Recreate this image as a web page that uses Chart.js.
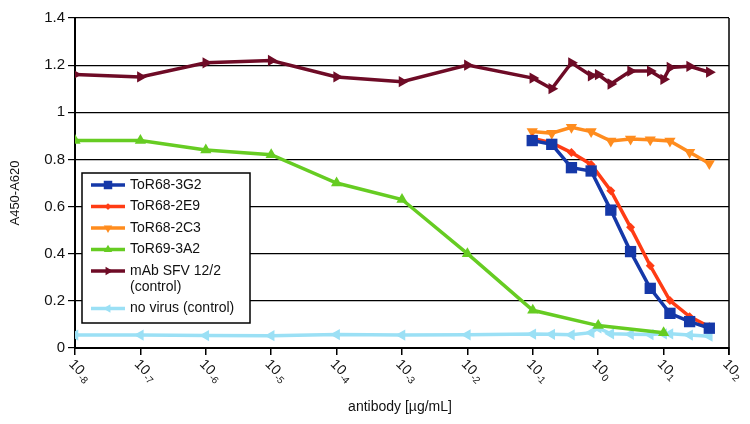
<!DOCTYPE html>
<html>
<head>
<meta charset="utf-8">
<script src="https://cdn.jsdelivr.net/npm/chart.js@4"></script>
<style>
  body { margin: 0; background: #fff; }
  canvas { display: block; }
</style>
</head>
<body>
<canvas id="myChart" width="750" height="424"></canvas>
<script>
// antibody concentrations [µg/mL]
const decades = [1e-8, 1e-7, 1e-6, 1e-5, 1e-4, 1e-3, 1e-2, 0.1, 1, 10];
const dilutions = [0.098, 0.195, 0.39, 0.78, 1.56, 3.125, 6.25, 12.5, 25, 50];
const mabX = [1e-8, 1e-7, 1e-6, 1e-5, 1e-4, 1e-3, 1e-2, 0.1, 0.195, 0.39, 0.78, 1, 1.56, 3.125, 6.25, 10, 12.5, 25, 50];
const noVirusX = [1e-8, 1e-7, 1e-6, 1e-5, 1e-4, 1e-3, 1e-2, 0.1, 0.195, 0.39, 0.78, 1, 1.56, 3.125, 6.25, 10, 12.5, 25, 50];

// A450-A620 readings
const tor3G2 = [0.88, 0.864, 0.765, 0.751, 0.585, 0.409, 0.253, 0.147, 0.112, 0.084];
const tor2E9 = [0.89, 0.87, 0.829, 0.779, 0.667, 0.512, 0.349, 0.201, 0.133, 0.09];
const tor2C3 = [0.918, 0.911, 0.936, 0.918, 0.878, 0.887, 0.883, 0.878, 0.83, 0.783];
const tor3A2 = [0.88, 0.88, 0.84, 0.82, 0.70, 0.63, 0.40, 0.16, 0.095, 0.065];
const mabSFV = [1.16, 1.15, 1.21, 1.22, 1.15, 1.13, 1.20, 1.145, 1.10, 1.21, 1.155, 1.16, 1.12, 1.175, 1.175, 1.14, 1.19, 1.195, 1.17];
const noVirus = [0.055, 0.055, 0.053, 0.052, 0.057, 0.055, 0.056, 0.059, 0.058, 0.056, 0.065, 0.085, 0.06, 0.058, 0.057, 0.06, 0.06, 0.055, 0.05];

const xTicks = [1e-8, 1e-7, 1e-6, 1e-5, 1e-4, 1e-3, 1e-2, 1e-1, 1, 10, 100];
const xTickExp = ['-8', '-7', '-6', '-5', '-4', '-3', '-2', '-1', '0', '1', '2'];
const yTicks = [0, 0.2, 0.4, 0.6, 0.8, 1, 1.2, 1.4];

const FONT = 'Liberation Sans, Arial, sans-serif';

function pts(xs, ys) {
    return xs.map((x, i) => ({ x: x, y: ys[i] }));
}

function series(label, xs, ys, color, style, radius, rotation) {
    return {
        label: label,
        data: pts(xs, ys),
        showLine: true,
        borderColor: color,
        backgroundColor: color,
        borderWidth: 3.5,
        pointStyle: style,
        pointRadius: radius,
        pointRotation: rotation,
        pointBorderWidth: 0,
        pointBackgroundColor: color
    };
}

const datasets = [
    series('ToR68-3G2', dilutions, tor3G2, '#1538a8', 'rect', 8, 0),
    series('ToR68-2E9', dilutions, tor2E9, '#ff3c14', 'rectRot', 4.5, 0),
    series('ToR68-2C3', dilutions, tor2C3, '#ff8c1e', 'triangle', 6.5, 180),
    series('ToR69-3A2', decades, tor3A2, '#66cc22', 'triangle', 6.5, 0),
    series('mAb SFV 12/2', mabX, mabSFV, '#6e0b26', 'triangle', 6.5, 90),
    series('no virus (control)', noVirusX, noVirus, '#9be0f5', 'triangle', 6.5, -90)
];

const legendNames = [['ToR68-3G2'], ['ToR68-2E9'], ['ToR68-2C3'], ['ToR69-3A2'], ['mAb SFV 12/2', '(control)'], ['no virus (control)']];

const decorations = {
    id: 'decorations',
    afterDraw(chart) {
        const ctx = chart.ctx;
        const a = chart.chartArea;
        const xs = chart.scales.x;
        ctx.save();

        // right frame line
        ctx.strokeStyle = '#000';
        ctx.lineWidth = 1.5;
        ctx.beginPath();
        ctx.moveTo(a.right, a.top);
        ctx.lineTo(a.right, a.bottom + 7);
        ctx.stroke();

        // rotated x tick labels 10^n
        ctx.fillStyle = '#111';
        xTicks.forEach((v, i) => {
            const px = xs.getPixelForValue(v);
            ctx.save();
            ctx.translate(px - 4, a.bottom + 14);
            ctx.rotate(Math.PI / 4);
            ctx.textBaseline = 'middle';
            ctx.textAlign = 'left';
            ctx.font = '14px ' + FONT;
            ctx.fillText('10', 0, 0);
            const w = ctx.measureText('10').width;
            ctx.font = '10px ' + FONT;
            ctx.fillText(xTickExp[i], w + 0.5, 4);
            ctx.restore();
        });

        // axis titles
        ctx.font = '14px ' + FONT;
        ctx.textAlign = 'center';
        ctx.textBaseline = 'middle';
        ctx.fillText('antibody [µg/mL]', 400, 407);
        ctx.save();
        ctx.translate(15, 193);
        ctx.rotate(-Math.PI / 2);
        ctx.font = '13px ' + FONT;
        ctx.fillText('A450-A620', 0, 0);
        ctx.restore();

        // legend box
        const bx = 82, by = 173, bw = 168, bh = 150;
        ctx.fillStyle = '#fff';
        ctx.fillRect(bx, by, bw, bh);
        ctx.strokeStyle = '#000';
        ctx.lineWidth = 1.5;
        ctx.strokeRect(bx, by, bw, bh);

        let y = by + 12;
        datasets.forEach((ds, i) => {
            ctx.strokeStyle = ds.borderColor;
            ctx.fillStyle = ds.borderColor;
            ctx.lineWidth = 3.5;
            ctx.beginPath();
            ctx.moveTo(bx + 9, y);
            ctx.lineTo(bx + 43, y);
            ctx.stroke();
            Chart.helpers.drawPoint(ctx, {
                pointStyle: ds.pointStyle,
                radius: ds.pointRadius * 0.75,
                rotation: ds.pointRotation,
                borderWidth: 0
            }, bx + 26, y);
            ctx.fillStyle = '#111';
            ctx.font = '14px ' + FONT;
            ctx.textAlign = 'left';
            ctx.textBaseline = 'middle';
            legendNames[i].forEach((line, j) => {
                ctx.fillText(line, bx + 48, y + j * 16);
            });
            y += 21.5 + (legendNames[i].length - 1) * 16;
        });

        ctx.restore();
    }
};

new Chart(document.getElementById('myChart').getContext('2d'), {
    type: 'scatter',
    data: { datasets: datasets },
    options: {
        responsive: false,
        animation: false,
        devicePixelRatio: 1,
        layout: { padding: { left: 0, right: 21, top: 18, bottom: 0 } },
        plugins: {
            legend: { display: false },
            tooltip: { enabled: false }
        },
        scales: {
            x: {
                type: 'logarithmic',
                min: 1e-8,
                max: 100,
                afterBuildTicks: s => { s.ticks = xTicks.map(v => ({ value: v })); },
                afterFit: s => { s.height = 76; },
                ticks: { display: false },
                grid: { drawOnChartArea: false, drawTicks: true, tickLength: 7, color: '#000', lineWidth: 1.5 },
                border: { color: '#000', width: 2 }
            },
            y: {
                min: 0,
                max: 1.4,
                afterBuildTicks: s => { s.ticks = yTicks.map(v => ({ value: v })); },
                afterFit: s => { s.width = 75; },
                ticks: {
                    padding: 3,
                    color: '#111',
                    font: { family: FONT, size: 15 },
                    callback: v => String(Number(v.toFixed(1)))
                },
                grid: { color: '#000', lineWidth: 1.2, tickLength: 7 },
                border: { color: '#000', width: 2 }
            }
        }
    },
    plugins: [decorations]
});
</script>
</body>
</html>
